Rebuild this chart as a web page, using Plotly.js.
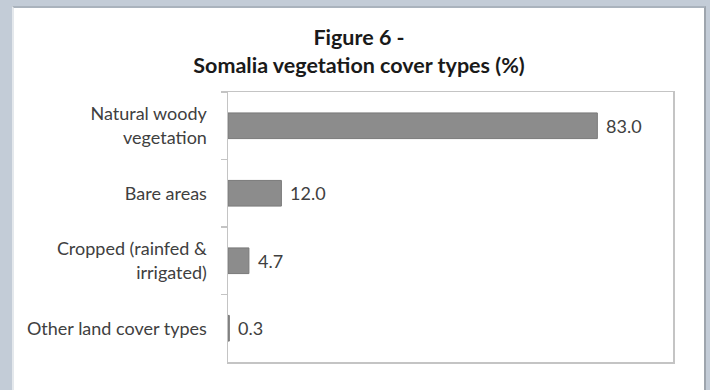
<!DOCTYPE html>
<html>
<head>
<meta charset="utf-8">
<script src="https://cdn.plot.ly/plotly-3.0.1.min.js"></script>
<style>
  html, body { margin: 0; padding: 0; width: 710px; height: 390px; overflow: hidden; background: #c3ccd7; }
  #frame { position: absolute; left: 12px; top: 6px; width: 694px; height: 384px; background: #ffffff;
           border-left: 2px solid #e4e8ec; border-top: 2px solid #aab3bd; border-right: 2px solid #9ea5ad; box-sizing: border-box; }
  #chart { position: absolute; left: 0px; top: 0px; width: 690px; height: 382px; }
</style>
</head>
<body>
<div id="frame"><div id="chart"></div></div>
<script>
// Vegetation cover shares (%), top to bottom
const categories = [
  "Natural woody<br>vegetation",
  "Bare areas",
  "Cropped (rainfed &<br>irrigated)",
  "Other land cover types"
];
const shares = [83.0, 12.0, 4.7, 0.3];
const valueLabels = shares.map(v => v.toFixed(1));

const FONT = "Lato, 'Open Sans', sans-serif";

const trace = {
  type: "bar",
  orientation: "h",
  y: categories,
  x: shares,
  width: 0.38,
  marker: { color: "#8c8c8c", line: { color: "#7a7a7a", width: 1 } },
  hoverinfo: "skip"
};

const annotations = shares.map((v, i) => ({
  x: v, y: categories[i], xref: "x", yref: "y",
  text: valueLabels[i], showarrow: false,
  xanchor: "left", yanchor: "middle", xshift: 7,
  font: { family: FONT, size: 18, color: "#404040" }
}));

const layout = {
  width: 690, height: 382,
  margin: { l: 214, r: 31, t: 84, b: 28 },
  paper_bgcolor: "#ffffff",
  plot_bgcolor: "#ffffff",
  showlegend: false,
  title: {
    text: "<b>Figure 6 -<br>Somalia vegetation cover types (%)</b>",
    x: 0.5, xref: "container", xanchor: "center",
    y: 0.902, yref: "container", yanchor: "middle",
    font: { family: FONT, size: 21.5, color: "#1a1a1a" }
  },
  xaxis: {
    range: [0, 100],
    showticklabels: false, ticks: "", showgrid: false, zeroline: false,
    showline: true, mirror: true, linecolor: "#c4c4c4", linewidth: 1.5,
    fixedrange: true
  },
  yaxis: {
    type: "category",
    categoryorder: "array", categoryarray: categories,
    autorange: "reversed",
    showgrid: false, zeroline: false,
    showline: true, mirror: true, linecolor: "#c4c4c4", linewidth: 1.5,
    ticks: "outside", tickson: "boundaries", ticklen: 6, tickcolor: "#c4c4c4", tickwidth: 1.5,
    ticklabelstandoff: 16,
    tickfont: { family: FONT, size: 18, color: "#404040" },
    fixedrange: true
  },
  annotations: annotations
};

Plotly.newPlot("chart", [trace], layout, { displayModeBar: false, staticPlot: true });
</script>
</body>
</html>
